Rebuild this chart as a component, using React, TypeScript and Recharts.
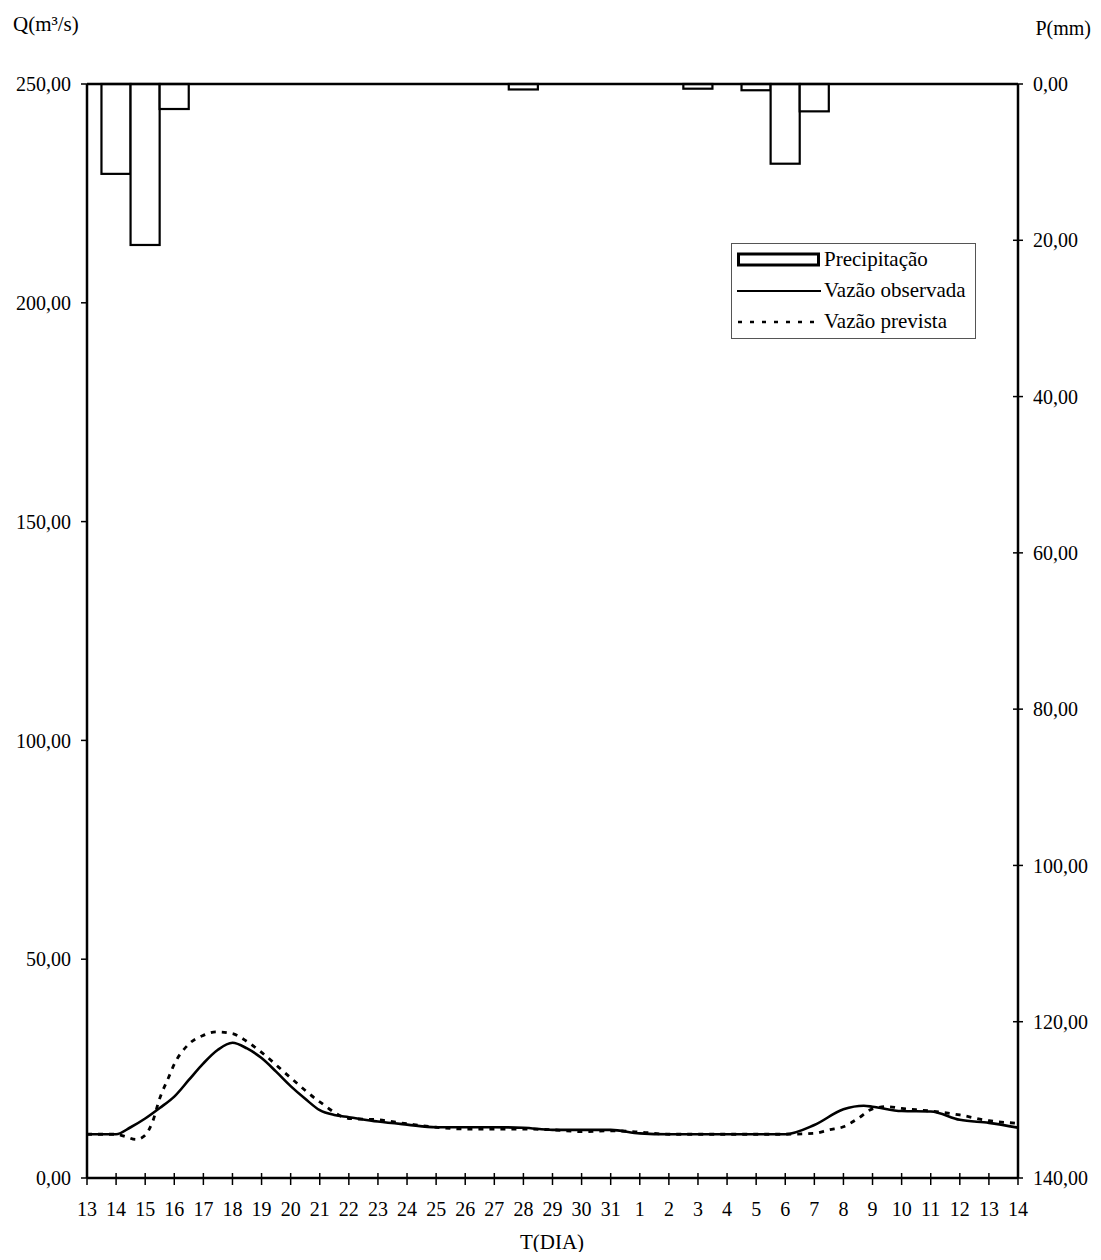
import React from 'react';
import { ComposedChart, Bar, Line, XAxis, YAxis, ReferenceLine, Legend } from 'recharts';

// Day labels along the time axis (13 of one month to 14 of the next)
const dayLabels = [
  '13', '14', '15', '16', '17', '18', '19', '20', '21', '22', '23', '24', '25', '26', '27', '28',
  '29', '30', '31', '1', '2', '3', '4', '5', '6', '7', '8', '9', '10', '11', '12', '13', '14',
];

// Daily precipitation P (mm), one value per day label
const precipitation = [
  0, 11.5, 20.6, 3.2, 0, 0, 0, 0, 0, 0, 0, 0, 0, 0, 0, 0.7,
  0, 0, 0, 0, 0, 0.6, 0, 0.8, 10.2, 3.5, 0, 0, 0, 0, 0, 0, 0,
];

// Observed discharge Q (m³/s): time (day index) and value
const observedT = [0, 1, 1.5, 2, 2.5, 3, 3.5, 4, 4.5, 5, 5.5, 6, 6.5, 7, 7.5, 8, 8.5, 9, 10, 11, 12, 13, 14, 15, 16, 17, 18, 19, 20, 22, 24, 25, 26, 26.7, 27, 28, 29, 30, 31, 32];
const observedQ = [10.0, 10.0, 11.6, 13.6, 16.0, 18.6, 22.4, 26.2, 29.3, 30.9, 29.6, 27.4, 24.3, 21.0, 18.1, 15.5, 14.4, 13.9, 12.9, 12.2, 11.6, 11.6, 11.6, 11.5, 11.0, 11.0, 11.0, 10.2, 10.0, 10.0, 10.0, 12.1, 15.7, 16.5, 16.3, 15.3, 15.2, 13.3, 12.6, 11.5];

// Forecast discharge Q (m³/s): time (day index) and value
const forecastT = [0, 1, 1.35, 1.68, 2, 2.25, 2.5, 2.8, 3, 3.5, 4, 4.45, 5, 5.5, 6, 7, 8, 9, 10, 11, 12, 13, 14, 15, 16, 17, 18, 19, 20, 22, 24, 25, 25.5, 26, 26.5, 27, 27.5, 28, 29, 30, 31, 32];
const forecastQ = [10.0, 10.0, 9.4, 8.8, 9.8, 12.8, 18.2, 22.9, 26.0, 30.6, 32.6, 33.4, 33.0, 31.2, 28.7, 22.9, 17.4, 13.6, 13.3, 12.4, 11.6, 11.2, 11.2, 11.2, 11.0, 10.6, 10.8, 10.5, 10.0, 10.0, 10.0, 10.2, 11.0, 11.7, 13.6, 15.8, 16.3, 15.9, 15.3, 14.4, 13.1, 12.5];

const qTicks = [0, 50, 100, 150, 200, 250];
const pTicks = [0, 20, 40, 60, 80, 100, 120, 140];

const barData = precipitation.map((p, i) => ({ t: i, p }));
const observedData = observedT.map((t, i) => ({ t, q: observedQ[i] }));
const forecastData = forecastT.map((t, i) => ({ t, q: forecastQ[i] }));
const dayTicks = dayLabels.map((_, i) => i);

const W = 1101;
const H = 1260;
const margin = { top: 84, right: 13, bottom: 42, left: 17 };
const Y_AXIS_W = 70;
const X_AXIS_H = 40;
const plotWidth = W - margin.left - margin.right - 2 * Y_AXIS_W;
const barWidth = plotWidth / (dayLabels.length - 1);

const TICK_SIZE = 6;
const X_TICK_MARGIN = 18;
const P_TICK_MARGIN = 9;

const FONT = '"Liberation Serif", "Times New Roman", serif';
const fmt = (v: number) => v.toFixed(2).replace('.', ',');
const tickStyle = { fontFamily: FONT, fontSize: 20, fill: '#000' };

// Bar drawn one full day wide, centred on the position the library computes
function PrecipBar(props: any) {
  const { x, y, width, height } = props;
  if (!height) return null;
  const cx = x + width / 2;
  const top = Math.min(y, y + height);
  return (
    <rect
      x={cx - barWidth / 2}
      y={top}
      width={barWidth}
      height={Math.abs(height)}
      fill="#fff"
      stroke="#000"
      strokeWidth={2.2}
    />
  );
}

// Time-axis tick: a short mark crossing the axis, then the day label
function DayTick(props: any) {
  const { x, y, payload } = props;
  const axisY = y - TICK_SIZE - X_TICK_MARGIN;
  return (
    <g>
      <line x1={x} x2={x} y1={axisY - 5} y2={axisY + 7} stroke="#000" strokeWidth={1.5} />
      <text x={x} y={y} dy="0.71em" textAnchor="middle" {...tickStyle}>
        {dayLabels[payload.value]}
      </text>
    </g>
  );
}

// Precipitation-axis tick: a mark crossing the right axis, then the value
function RainTick(props: any) {
  const { x, y, payload } = props;
  const axisX = x - TICK_SIZE - P_TICK_MARGIN;
  return (
    <g>
      <line x1={axisX - 5} x2={axisX + 5} y1={y} y2={y} stroke="#000" strokeWidth={1.5} />
      <text x={x} y={y} dy="0.355em" textAnchor="start" {...tickStyle}>
        {fmt(payload.value)}
      </text>
    </g>
  );
}

function LegendBox() {
  const row = { display: 'flex', alignItems: 'center', height: 31 } as React.CSSProperties;
  const label = { marginLeft: 3 } as React.CSSProperties;
  return (
    <div
      style={{
        border: '1px solid #555',
        background: '#fff',
        width: 245,
        height: 96,
        boxSizing: 'border-box',
        padding: '0 0 0 5px',
        fontFamily: FONT,
        fontSize: 21,
        color: '#000',
      }}
    >
      <div style={row}>
        <svg width={84} height={20}>
          <rect x={1.5} y={4} width={80} height={11} fill="#fff" stroke="#000" strokeWidth={3} />
        </svg>
        <span style={label}>Precipitação</span>
      </div>
      <div style={row}>
        <svg width={84} height={20}>
          <line x1={0} y1={10} x2={84} y2={10} stroke="#000" strokeWidth={2.2} />
        </svg>
        <span style={label}>Vazão observada</span>
      </div>
      <div style={row}>
        <svg width={84} height={20}>
          <line x1={1} y1={10} x2={84} y2={10} stroke="#000" strokeWidth={2.6} strokeDasharray="4 8" />
        </svg>
        <span style={label}>Vazão prevista</span>
      </div>
    </div>
  );
}

export default function App() {
  return (
    <div style={{ position: 'relative', width: W, height: H, margin: -8, background: '#fff' }}>
      <ComposedChart width={W} height={H} data={barData} margin={margin}>
        <XAxis
          dataKey="t"
          type="number"
          domain={[0, dayLabels.length - 1]}
          ticks={dayTicks}
          interval={0}
          height={X_AXIS_H}
          axisLine={{ stroke: '#000', strokeWidth: 2.5 }}
          tickLine={false}
          tickSize={TICK_SIZE}
          tickMargin={X_TICK_MARGIN}
          tick={<DayTick />}
          allowDataOverflow
        />
        <YAxis
          yAxisId="q"
          orientation="left"
          domain={[0, 250]}
          ticks={qTicks}
          tickFormatter={fmt}
          width={Y_AXIS_W}
          axisLine={{ stroke: '#000', strokeWidth: 2.5 }}
          tickLine={{ stroke: '#000', strokeWidth: 1.5 }}
          tickSize={TICK_SIZE}
          tickMargin={10}
          tick={tickStyle}
        />
        <YAxis
          yAxisId="p"
          orientation="right"
          reversed
          domain={[0, 140]}
          ticks={pTicks}
          width={Y_AXIS_W}
          axisLine={{ stroke: '#000', strokeWidth: 2.5 }}
          tickLine={false}
          tickSize={TICK_SIZE}
          tickMargin={P_TICK_MARGIN}
          tick={<RainTick />}
        />
        <ReferenceLine yAxisId="q" y={250} stroke="#000" strokeWidth={2.5} />
        <Bar
          yAxisId="p"
          dataKey="p"
          shape={<PrecipBar />}
          fill="#fff"
          stroke="#000"
          isAnimationActive={false}
        />
        <Line
          yAxisId="q"
          data={observedData}
          dataKey="q"
          type="monotone"
          stroke="#000"
          strokeWidth={2.6}
          dot={false}
          isAnimationActive={false}
        />
        <Line
          yAxisId="q"
          data={forecastData}
          dataKey="q"
          type="monotone"
          stroke="#000"
          strokeWidth={2.8}
          strokeDasharray="5 6"
          dot={false}
          isAnimationActive={false}
        />
        <Legend
          layout="vertical"
          align="center"
          verticalAlign="middle"
          content={() => <LegendBox />}
          wrapperStyle={{ left: 731, top: 243, width: 245, height: 96 }}
        />
      </ComposedChart>
      <svg
        width={W}
        height={H}
        style={{ position: 'absolute', left: 0, top: 0, pointerEvents: 'none' }}
      >
        <text x={13} y={31} fontFamily={FONT} fontSize={21} fill="#000">Q(m³/s)</text>
        <text x={1091} y={35} fontFamily={FONT} fontSize={20} fill="#000" textAnchor="end">P(mm)</text>
        <text x={552} y={1249} fontFamily={FONT} fontSize={21} fill="#000" textAnchor="middle">T(DIA)</text>
      </svg>
    </div>
  );
}
